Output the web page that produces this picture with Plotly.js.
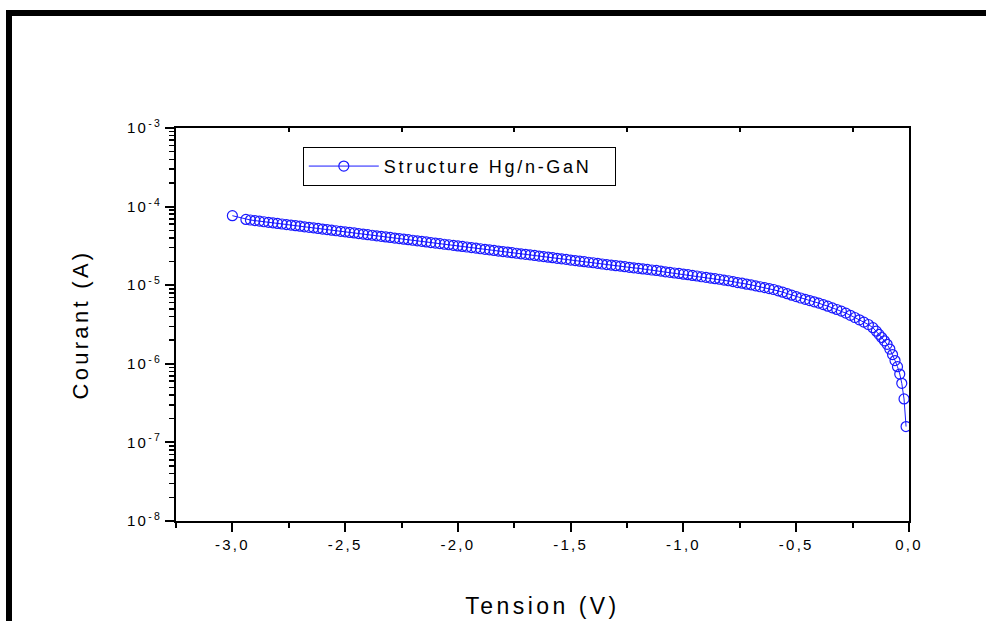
<!DOCTYPE html>
<html>
<head>
<meta charset="utf-8">
<script src="https://cdn.plot.ly/plotly-3.0.1.min.js"></script>
<style>
  html, body { margin: 0; padding: 0; background: #fff; }
  #wrap { position: relative; width: 986px; height: 621px; overflow: hidden; }
  #chart { width: 986px; height: 621px; }
  #frame { position: absolute; left: 6px; top: 10px; right: -10px; bottom: -10px;
           border-left: 6px solid #000; border-top: 6px solid #000; pointer-events: none; }
  svg text { letter-spacing: 0.15em; }
</style>
</head>
<body>
<div id="wrap">
  <div id="chart"></div>
  <div id="frame"></div>
</div>
<script>
// Tension (V)
const voltage = [
  -3.00, -2.94, -2.92, -2.90, -2.88, -2.86, -2.84, -2.82, -2.80, -2.78, -2.76,
  -2.74, -2.72, -2.70, -2.68, -2.66, -2.64, -2.62, -2.60, -2.58, -2.56,
  -2.54, -2.52, -2.50, -2.48, -2.46, -2.44, -2.42, -2.40, -2.38, -2.36,
  -2.34, -2.32, -2.30, -2.28, -2.26, -2.24, -2.22, -2.20, -2.18, -2.16,
  -2.14, -2.12, -2.10, -2.08, -2.06, -2.04, -2.02, -2.00, -1.98, -1.96,
  -1.94, -1.92, -1.90, -1.88, -1.86, -1.84, -1.82, -1.80, -1.78, -1.76,
  -1.74, -1.72, -1.70, -1.68, -1.66, -1.64, -1.62, -1.60, -1.58, -1.56,
  -1.54, -1.52, -1.50, -1.48, -1.46, -1.44, -1.42, -1.40, -1.38, -1.36,
  -1.34, -1.32, -1.30, -1.28, -1.26,
  -1.24, -1.22, -1.20, -1.18, -1.16, -1.14, -1.12, -1.10, -1.08, -1.06,
  -1.04, -1.02, -1.00, -0.98, -0.96, -0.94, -0.92, -0.90, -0.88, -0.86,
  -0.84, -0.82, -0.80, -0.78, -0.76, -0.74, -0.72, -0.70, -0.68, -0.66,
  -0.64, -0.62, -0.60, -0.58, -0.56, -0.54, -0.52, -0.50, -0.48, -0.46,
  -0.44, -0.42, -0.40, -0.38, -0.36, -0.34, -0.32, -0.30, -0.28, -0.26,
  -0.24, -0.22, -0.20, -0.18, -0.16,
  -0.145, -0.133, -0.121, -0.109, -0.097, -0.085, -0.073, -0.062, -0.051,
  -0.041, -0.032, -0.022, -0.013
];
// Courant (A)
const current = [
  7.66e-5, 6.86e-5, 6.75e-5, 6.64e-5, 6.53e-5, 6.42e-5, 6.31e-5, 6.21e-5, 6.11e-5, 6.01e-5, 5.91e-5,
  5.82e-5, 5.72e-5, 5.63e-5, 5.53e-5, 5.44e-5, 5.36e-5, 5.27e-5, 5.18e-5, 5.10e-5, 5.01e-5,
  4.93e-5, 4.85e-5, 4.77e-5, 4.69e-5, 4.62e-5, 4.54e-5, 4.47e-5, 4.39e-5, 4.32e-5, 4.25e-5,
  4.18e-5, 4.11e-5, 4.05e-5, 3.98e-5, 3.92e-5, 3.85e-5, 3.79e-5, 3.73e-5, 3.67e-5, 3.61e-5,
  3.55e-5, 3.49e-5, 3.43e-5, 3.38e-5, 3.32e-5, 3.27e-5, 3.21e-5, 3.16e-5, 3.11e-5, 3.06e-5,
  3.01e-5, 2.96e-5, 2.91e-5, 2.86e-5, 2.82e-5, 2.77e-5, 2.72e-5, 2.68e-5, 2.64e-5, 2.59e-5,
  2.55e-5, 2.51e-5, 2.47e-5, 2.43e-5, 2.39e-5, 2.35e-5, 2.31e-5, 2.27e-5, 2.24e-5, 2.20e-5,
  2.16e-5, 2.13e-5, 2.09e-5, 2.06e-5, 2.02e-5, 1.99e-5, 1.96e-5, 1.93e-5, 1.90e-5, 1.86e-5,
  1.83e-5, 1.80e-5, 1.77e-5, 1.75e-5, 1.72e-5,
  1.69e-5, 1.66e-5, 1.64e-5, 1.61e-5, 1.59e-5, 1.56e-5, 1.54e-5, 1.51e-5, 1.48e-5, 1.46e-5,
  1.43e-5, 1.41e-5, 1.38e-5, 1.36e-5, 1.33e-5, 1.31e-5, 1.28e-5, 1.26e-5, 1.23e-5, 1.21e-5,
  1.19e-5, 1.16e-5, 1.14e-5, 1.11e-5, 1.08e-5, 1.06e-5, 1.03e-5, 1.01e-5, 9.80e-6, 9.55e-6,
  9.31e-6, 9.06e-6, 8.81e-6, 8.47e-6, 8.15e-6, 7.80e-6, 7.46e-6, 7.15e-6, 6.87e-6, 6.62e-6,
  6.38e-6, 6.15e-6, 5.92e-6, 5.66e-6, 5.41e-6, 5.15e-6, 4.91e-6, 4.68e-6, 4.41e-6, 4.14e-6,
  3.88e-6, 3.63e-6, 3.39e-6, 3.16e-6, 2.88e-6,
  2.60e-6, 2.37e-6, 2.16e-6, 1.96e-6, 1.77e-6, 1.54e-6, 1.31e-6, 1.10e-6, 9.18e-7,
  7.41e-7, 5.65e-7, 3.57e-7, 1.59e-7
];
const seriesName = 'Structure Hg/n-GaN';

// axis ticks and labels
const xTickVals = [-3.0, -2.5, -2.0, -1.5, -1.0, -0.5, 0.0];
const xTickText = ['-3,0', '-2,5', '-2,0', '-1,5', '-1,0', '-0,5', '0,0'];
const xMinorVals = [-3.25, -2.75, -2.25, -1.75, -1.25, -0.75, -0.25];
const yTickVals = [1e-8, 1e-7, 1e-6, 1e-5, 1e-4, 1e-3];
const yTickText = ['10<sup>-8</sup>', '10<sup>-7</sup>', '10<sup>-6</sup>', '10<sup>-5</sup>', '10<sup>-4</sup>', '10<sup>-3</sup>'];
const yMinorVals = [];
yTickVals.slice(0, -1).forEach(d => { for (let m = 2; m <= 9; m++) yMinorVals.push(d * m); });

const blue = '#1a1aff';
const font = 'Liberation Sans, Arial, sans-serif';

const traces = [
  {
    x: voltage, y: current, name: seriesName, type: 'scatter', mode: 'lines+markers',
    line: { color: blue, width: 1 },
    marker: { symbol: 'circle-open', size: 10, color: blue, line: { width: 1.2, color: blue } }
  },
  { x: [], y: [], xaxis: 'x2', yaxis: 'y', showlegend: false, hoverinfo: 'skip', type: 'scatter', mode: 'markers' }
];

const layout = {
  width: 986, height: 621,
  margin: { l: 176, r: 77, t: 128, b: 100, pad: 0 },
  paper_bgcolor: '#fff', plot_bgcolor: '#fff',
  font: { family: font, color: '#000', size: 15 },
  showlegend: true,
  legend: {
    x: 0.173, y: 0.952, xanchor: 'left', yanchor: 'top',
    orientation: 'h', entrywidth: 226, entrywidthmode: 'pixels',
    bgcolor: '#fff', bordercolor: '#000', borderwidth: 1,
    font: { size: 18, family: font, color: '#000' },
    itemwidth: 70
  },
  xaxis: {
    range: [-3.25, 0], showgrid: false, zeroline: false,
    showline: true, linecolor: '#000', linewidth: 2, mirror: true,
    tickmode: 'array', tickvals: xTickVals, ticktext: xTickText,
    ticks: 'outside', ticklen: 9, tickwidth: 2, tickcolor: '#000',
    tickfont: { size: 15, family: font },
    minor: { tickmode: 'array', tickvals: xMinorVals, ticks: 'outside', ticklen: 5, tickwidth: 2, tickcolor: '#000', showgrid: false },
    title: { text: 'Tension (V)', font: { size: 23, family: font }, standoff: 46 }
  },
  xaxis2: {
    overlaying: 'x', side: 'top', anchor: 'y', range: [-3.25, 0],
    showgrid: false, zeroline: false, showline: false,
    tickmode: 'array', tickvals: xMinorVals.slice(1), ticks: 'inside', ticklen: 4, tickwidth: 2, tickcolor: '#000',
    showticklabels: false
  },
  yaxis: {
    type: 'log', range: [-8, -3], showgrid: false, zeroline: false,
    showline: true, linecolor: '#000', linewidth: 2, mirror: true,
    tickmode: 'array', tickvals: yTickVals, ticktext: yTickText,
    ticks: 'outside', ticklen: 9, tickwidth: 2, tickcolor: '#000',
    tickfont: { size: 15, family: font },
    minor: { tickmode: 'array', tickvals: yMinorVals, ticks: 'outside', ticklen: 5, tickwidth: 1.5, tickcolor: '#000', showgrid: false },
    title: { text: 'Courant (A)', font: { size: 22, family: font }, standoff: 32 }
  }
};

Plotly.newPlot('chart', traces, layout, { displayModeBar: false, staticPlot: true });
</script>
</body>
</html>
